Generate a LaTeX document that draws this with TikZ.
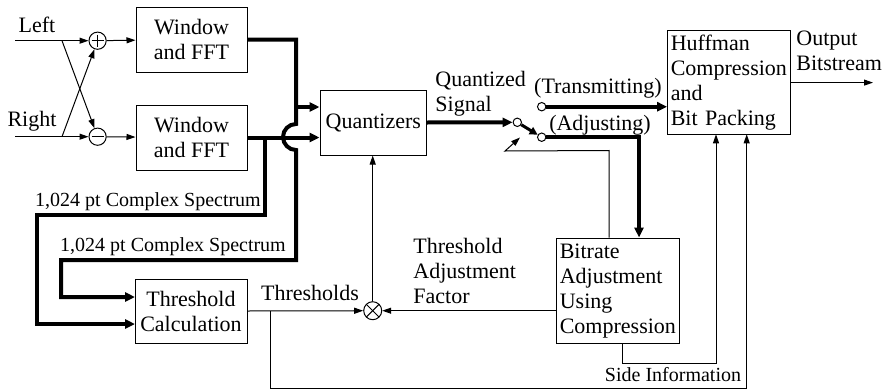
\documentclass[tikz,border=0pt]{standalone}
\usepackage{fontspec}
\setmainfont{Liberation Serif}
\usetikzlibrary{arrows.meta, positioning, calc}

\begin{document}
\begin{tikzpicture}[
    x=0.5pt, y=-0.5pt,
    font=\fontsize{11}{12.5}\selectfont,
    box/.style={draw, line width=0.5pt, inner sep=0pt, align=center, minimum width=55.5pt, minimum height=32.5pt},
    tbox/.style={draw, line width=0.5pt, inner xsep=1.6pt, inner ysep=0pt, align=left, text width=58pt, minimum height=#1},
    junc/.style={circle, draw, line width=0.5pt, minimum size=8.6pt, inner sep=0pt},
    plusj/.style={junc, path picture={
        \draw[line width=0.5pt, shorten <=1.3pt, shorten >=1.3pt] (path picture bounding box.west) -- (path picture bounding box.east);
        \draw[line width=0.5pt, shorten <=1.3pt, shorten >=1.3pt] (path picture bounding box.north) -- (path picture bounding box.south);}},
    minusj/.style={junc, path picture={
        \draw[line width=0.5pt, shorten <=1.3pt, shorten >=1.3pt] (path picture bounding box.west) -- (path picture bounding box.east);}},
    multj/.style={junc, path picture={
        \draw[line width=0.5pt] (path picture bounding box.north west) -- (path picture bounding box.south east);
        \draw[line width=0.5pt] (path picture bounding box.north east) -- (path picture bounding box.south west);}},
    contact/.style={circle, draw, line width=0.5pt, minimum size=4.2pt, inner sep=0pt, fill=white},
    sig/.style={line width=0.5pt, -{Triangle[length=4.5pt, width=3pt]}},
    wire/.style={line width=0.5pt},
    bus/.style={line width=2pt, -{Triangle[length=5pt, width=4.5pt]}},
    arm/.style={line width=1.5pt, -{Triangle[length=4pt, width=4pt]}},
    lbl/.style={inner sep=0pt, align=left},
    small/.style={font=\fontsize{10}{12}\selectfont, inner sep=0pt}
]
\useasboundingbox (0,0) rectangle (888,391);

% Nodes
\node[lbl] (lefttxt) at (37,25) {Left};
\node[lbl] (righttxt) at (32,121) {Right};
\node[plusj] (plus) at (97.6,40.7) {};
\node[minusj] (minus) at (97.6,136.7) {};
\node[box] (win1) at (191.5,39.5) {Window\\and FFT};
\node[box] (win2) at (191.5,137.5) {Window\\and FFT};
\node[box, minimum width=53.3pt] (quant) at (373.3,122.5) {Quantizers};
\node[box, minimum width=56pt, minimum height=32pt] (tcalc) at (191,311) {Threshold\\Calculation};
\node[multj, minimum size=9pt] (mult) at (372.7,310.7) {};
\node[tbox=51.7pt] (huff) at (728.8,82.6) {Huffman\\Compression\\and\\Bit Packing};
\node[tbox=52.7pt] (bitr) at (617.8,290.7) {Bitrate\\Adjustment\\Using\\Compression};

\node[contact] (piv) at (517.3,122.3) {};
\node[contact] (trans) at (541.7,106.7) {};
\node[contact] (adj) at (541.7,137.2) {};

% Labels
\node[small] (spec1) at (148,202) {1,024 pt Complex Spectrum};
\node[small] (spec2) at (173,247) {1,024 pt Complex Spectrum};
\node[lbl, anchor=west] (qsig) at (435,93.5) {Quantized\\Signal};
\node[lbl] (transtxt) at (598,88) {(Transmitting)};
\node[lbl] (adjtxt) at (600,125) {(Adjusting)};
\node[lbl, anchor=west] (outtxt) at (796,50.5) {Output\\Bitstream};
\node[lbl] (thrtxt) at (310,293) {Thresholds};
\node[lbl, anchor=west] (facttxt) at (413,270.5) {Threshold\\Adjustment\\Factor};
\node[small] (sidetxt) at (673,375) {Side Information};

% Junction points
\coordinate (inL) at (15,40.7);
\coordinate (inR) at (15,136.7);
\coordinate (xL) at (62,40.7);
\coordinate (xR) at (62,136.7);
\coordinate (up1) at (296,107);
\coordinate (dn1) at (265,137.5);
\coordinate (ta1) at (135,297);
\coordinate (ta2) at (135,324);
\coordinate (tb) at (270,311);
\coordinate (si1) at (716,134.3);
\coordinate (si2) at (746.7,134.3);
\coordinate (outend) at (873,82.6);

% Arrows
\draw[sig] (inL) -- (plus);
\draw[sig] (inR) -- (minus);
\draw[sig] (xL) -- (minus);
\draw[sig] (xR) -- (plus);
\draw[sig] (plus) -- (win1);
\draw[sig] (minus) -- (win2);

\draw[bus] (win1.east) -| (296,124) arc[start angle=90, end angle=270, radius=6.5pt] -- (296,260) -| (61,297) -- (ta1);
\draw[bus] (up1) -- (up1 -| quant.west);
\draw[bus] (win2.east) -- (win2.east -| quant.west);
\draw[bus] (dn1) -- (265,215) -| (37,324) -- (ta2);

\draw[bus] (quant.east) -- (piv);
\draw[arm] (piv) -- (adj);
\draw[bus] (trans) -- (trans -| huff.west);
\draw[bus] (adj) -| ([xshift=10.6pt]bitr.north);
\draw[sig] ([xshift=-4.4pt]bitr.north) -- ++(0,-87) -- (505,151) -- (520,137.5);

\draw[sig] (tcalc.east) -- (mult);
\draw[sig] (bitr.west |- mult) -- (mult);
\draw[sig] (mult.north) -- (mult.north |- quant.south);
\draw[sig] (tb) -- (270,388) -| (si2);
\draw[sig] ([xshift=2.1pt]bitr.south) -- ++(0,19.4) -| (si1);
\draw[sig] (huff.east |- outend) -- (outend);

\end{tikzpicture}
\end{document}
